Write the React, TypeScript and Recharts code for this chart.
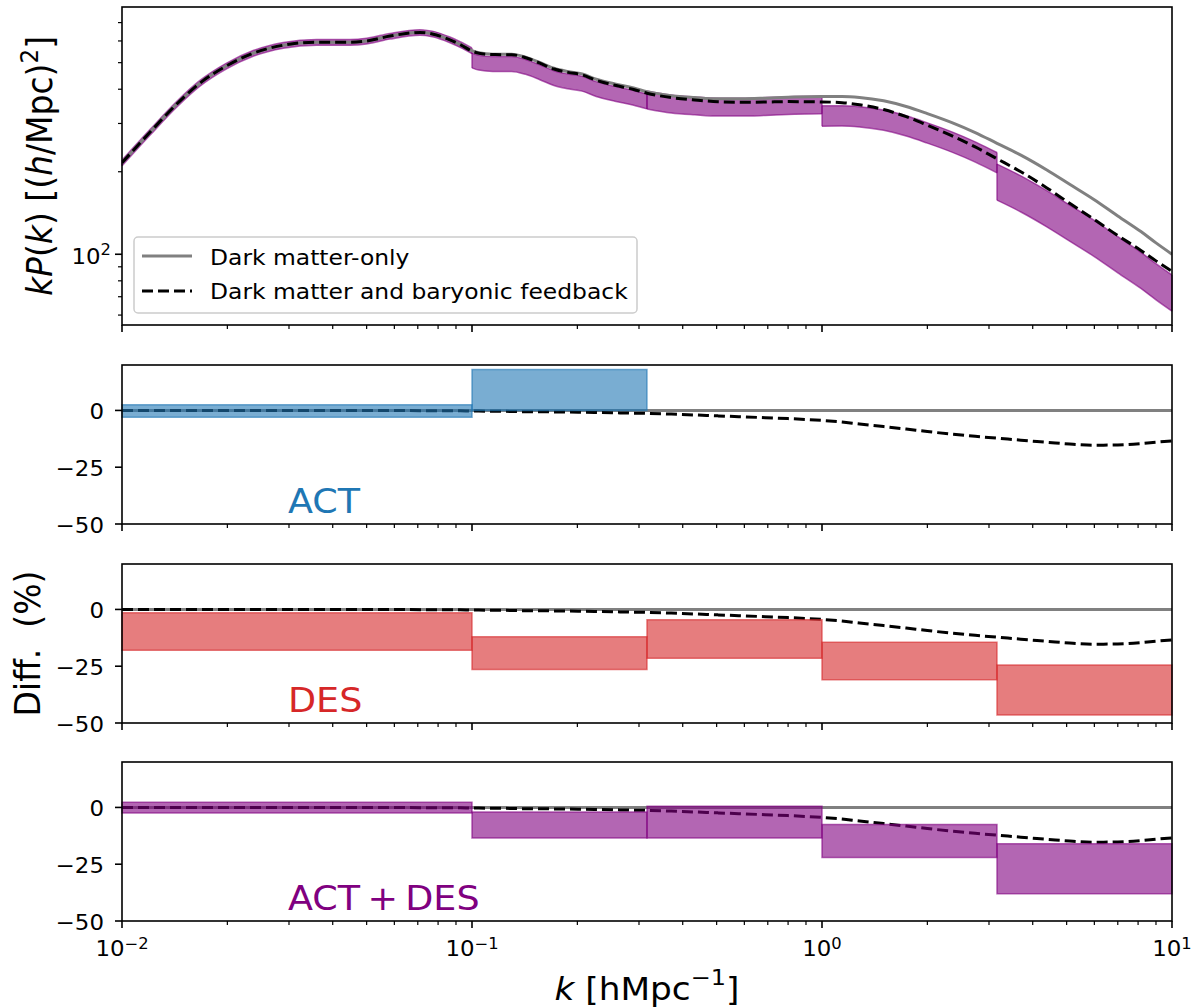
import React from "react";
import {
  Area,
  ComposedChart,
  Line,
  ReferenceArea,
  ReferenceLine,
  XAxis,
  YAxis,
} from "recharts";

const FONT = "DejaVu Sans";
const SX = 1.09; // the picture is slightly wider than tall

// wavenumbers the curves were read at (h/Mpc)
const kValues = [
  0.01, 0.012, 0.0143, 0.0167, 0.0199, 0.0237, 0.0289, 0.036, 0.0448, 0.05, 0.0583, 0.071,
  0.077, 0.0865, 0.0925, 0.1, 0.1045, 0.1147, 0.1297, 0.1423, 0.1562, 0.1714, 0.188, 0.2064,
  0.2264, 0.256, 0.2897, 0.3162, 0.371, 0.433, 0.505, 0.59, 0.688, 0.8, 1, 1.14, 1.28, 1.5,
  1.74, 2.0, 2.37, 2.74, 3.162, 3.7, 4.39, 5.1, 5.98, 7.0, 8.15, 9.0, 10,
];

// kP(k), dark matter only
const dmoPower = [
  215.6, 278, 352, 421, 487, 541, 579, 594, 594, 600, 625, 645, 637, 606, 583, 553, 543, 537,
  537, 524, 501, 477, 464, 455, 435, 418, 404, 392, 379, 373, 369, 369, 371, 374, 376, 376.5,
  373.5, 363, 346, 326, 301, 278, 254, 230, 203, 180, 158.5, 138, 121, 110, 100,
];

// kP(k), dark matter + baryonic feedback
const feedbackPower = [
  215.6, 278, 352, 421, 487, 541, 579, 594, 594, 600, 625, 644.4, 636.4, 605.4, 582.4, 551.3,
  541.4, 535.1, 534.6, 521.1, 498, 473.9, 460.8, 451.4, 431.1, 413.6, 399.2, 386.9, 372.9,
  365.5, 360.1, 358.7, 359.1, 360.5, 359.5, 357.3, 351.1, 337.2, 317.6, 295.7, 269.4, 246.3,
  223.0, 199.9, 174.6, 153.4, 134.2, 117.0, 103.3, 94.6, 86.6,
];

// feedback vs dark matter only, %
const feedbackDiff = [
  0, 0, 0, 0, 0, 0, 0, 0, 0, 0, 0, -0.1, -0.1, -0.1, -0.1, -0.3, -0.3, -0.35, -0.45, -0.55,
  -0.6, -0.65, -0.7, -0.8, -0.9, -1.05, -1.2, -1.3, -1.6, -2, -2.4, -2.8, -3.2, -3.6, -4.4,
  -5.1, -6.0, -7.1, -8.2, -9.3, -10.5, -11.4, -12.2, -13.1, -14.0, -14.8, -15.3, -15.2, -14.6,
  -14.0, -13.4,
];

// k bins and the constraints in each (%)
const binEdges = [0.01, 0.1, 0.3162, 1, 3.162, 10];
const actLow = [-3, 0];
const actHigh = [2.5, 18];
const desLow = [-18, -26.5, -21.5, -31, -46.5];
const desHigh = [-1.5, -12, -4.5, -14.5, -24.5];
const combLow = [-2.5, -13.5, -13.5, -22, -38];
const combHigh = [2.3, -2, 0.5, -7.5, -16];

const xTicks = [
  0.01, 0.02, 0.03, 0.04, 0.05, 0.06, 0.07, 0.08, 0.09, 0.1, 0.2, 0.3, 0.4, 0.5, 0.6, 0.7, 0.8,
  0.9, 1, 2, 3, 4, 5, 6, 7, 8, 9, 10,
];
const xMajor = [0.01, 0.1, 1, 10];
const xMajorExp = ["\u22122", "\u22121", "0", "1"];
const topTicks = [60, 70, 80, 90, 100, 200, 300, 400, 500, 600, 700];
const diffTicks = [-50, -25, 0];

const rows = kValues.map((k, i) => {
  const row: Record<string, any> = {
    k,
    dmo: dmoPower[i],
    fb: feedbackPower[i],
    diff: feedbackDiff[i],
  };
  combLow.forEach((lo, b) => {
    const inside = k >= binEdges[b] * 0.9999 && k <= binEdges[b + 1] * 1.0001;
    row[`band${b}`] = inside
      ? [dmoPower[i] * (1 + lo / 100), dmoPower[i] * (1 + combHigh[b] / 100)]
      : null;
  });
  return row;
});

// vertical sides of the top-panel bands
const bandSides = combLow.flatMap((lo, b) =>
  [binEdges[b], binEdges[b + 1]].map((x) => {
    const p = dmoPower[kValues.indexOf(x)];
    return { x, y1: p * (1 + lo / 100), y2: p * (1 + combHigh[b] / 100) };
  })
);

const PLOT_L = 122;
const PLOT_R = 1172;
const W = 1196;
const TOP = { top: 7, bottom: 325 };
const DIFFS = [
  { top: 365, bottom: 524 },
  { top: 564, bottom: 723 },
  { top: 762, bottom: 921 },
];
const X_AXIS_H = 1;

const stretch = (x: number, y: number, rot = false) =>
  `translate(${x},${y}) scale(${SX},1)${rot ? " rotate(-90)" : ""}`;

const XTick = ({ x, y, payload, showLabel }: any) => {
  const v = payload.value;
  const idx = xMajor.findIndex((m) => Math.abs(m - v) < 1e-9);
  const major = idx >= 0;
  return (
    <g>
      <line x1={x} x2={x} y1={y} y2={y + (major ? 7 : 4)} stroke="#000" strokeWidth={major ? 1.6 : 1.2} />
      {showLabel && major && (
        <text
          transform={stretch(x, y + 34.5)}
          textAnchor="middle"
          fontFamily={FONT}
          fontSize={21}
          fill="#000"
        >
          10
          <tspan dy={-7} fontSize={15}>
            {xMajorExp[idx]}
          </tspan>
        </text>
      )}
    </g>
  );
};

const TopYTick = ({ x, y, payload }: any) => {
  const major = payload.value === 100;
  return (
    <g>
      <line x1={x} x2={x - (major ? 7 : 4)} y1={y} y2={y} stroke="#000" strokeWidth={major ? 1.6 : 1.2} />
      {major && (
        <text transform={stretch(x - 11, y + 9.3)} textAnchor="end" fontFamily={FONT} fontSize={21} fill="#000">
          10
          <tspan dy={-9} fontSize={15}>
            2
          </tspan>
        </text>
      )}
    </g>
  );
};

const DiffYTick = ({ x, y, payload }: any) => (
  <g>
    <line x1={x} x2={x - 7} y1={y} y2={y} stroke="#000" strokeWidth={1.6} />
    <text transform={stretch(x - 18, y + 9)} textAnchor="end" fontFamily={FONT} fontSize={21} fill="#000">
      {payload.value < 0 ? `\u2212${Math.abs(payload.value)}` : payload.value}
    </text>
  </g>
);

const xAxisProps = {
  dataKey: "k",
  type: "number" as const,
  scale: "log" as const,
  domain: [0.01, 10],
  allowDataOverflow: true,
  ticks: xTicks,
  interval: 0 as const,
  tickLine: false,
  axisLine: false,
  tickSize: 0,
  tickMargin: 0,
  height: X_AXIS_H,
};

const TopPanel = () => {
  const h = 340;
  return (
    <div style={{ position: "absolute", left: 0, top: 0 }}>
      <ComposedChart
        width={W}
        height={h}
        data={rows}
        margin={{ top: TOP.top, right: W - PLOT_R, bottom: h - TOP.bottom - X_AXIS_H, left: 0 }}
      >
        <XAxis {...xAxisProps} tick={(p: any) => <XTick {...p} showLabel={false} />} />
        <YAxis
          type="number"
          scale="log"
          domain={[55.2, 798]}
          allowDataOverflow
          ticks={topTicks}
          interval={0}
          width={PLOT_L}
          tickLine={false}
          axisLine={false}
          tickSize={0}
          tickMargin={0}
          tick={(p: any) => <TopYTick {...p} />}
        />
        {combLow.map((_, b) => (
          <Area
            key={b}
            dataKey={`band${b}`}
            type="monotone"
            fill="#800080"
            fillOpacity={0.6}
            stroke="#800080"
            strokeOpacity={0.6}
            strokeWidth={1.5}
            dot={false}
            activeDot={false}
            isAnimationActive={false}
          />
        ))}
        {bandSides.map((s, i) => (
          <ReferenceLine
            key={`side${i}`}
            segment={[
              { x: s.x, y: s.y1 },
              { x: s.x, y: s.y2 },
            ]}
            stroke="#800080"
            strokeOpacity={0.6}
            strokeWidth={1.5}
            ifOverflow="visible"
          />
        ))}
        <Line
          dataKey="dmo"
          type="monotone"
          stroke="#808080"
          strokeWidth={3}
          dot={false}
          activeDot={false}
          isAnimationActive={false}
        />
        <Line
          dataKey="fb"
          type="monotone"
          stroke="#000"
          strokeWidth={3}
          strokeDasharray="11 5"
          dot={false}
          activeDot={false}
          isAnimationActive={false}
        />
      </ComposedChart>
    </div>
  );
};

const DiffPanel = ({ panel, low, high, color, showLabels }: any) => {
  const divTop = panel.top - 10;
  const h = showLabels ? 1007 - divTop : panel.bottom - divTop + 16;
  return (
    <div style={{ position: "absolute", left: 0, top: divTop }}>
      <ComposedChart
        width={W}
        height={h}
        data={rows}
        margin={{ top: 10, right: W - PLOT_R, bottom: h - (panel.bottom - divTop) - X_AXIS_H, left: 0 }}
      >
        <XAxis {...xAxisProps} tick={(p: any) => <XTick {...p} showLabel={showLabels} />} />
        <YAxis
          type="number"
          domain={[-50, 20]}
          allowDataOverflow
          ticks={diffTicks}
          interval={0}
          width={PLOT_L}
          tickLine={false}
          axisLine={false}
          tickSize={0}
          tickMargin={0}
          tick={(p: any) => <DiffYTick {...p} />}
        />
        <ReferenceLine y={0} stroke="#808080" strokeWidth={3} />
        <Line
          dataKey="diff"
          type="monotone"
          stroke="#000"
          strokeWidth={3}
          strokeDasharray="11 5"
          dot={false}
          activeDot={false}
          isAnimationActive={false}
        />
        {low.map((lo: number, i: number) => (
          <ReferenceArea
            key={i}
            x1={binEdges[i]}
            x2={binEdges[i + 1]}
            y1={lo}
            y2={high[i]}
            fill={color}
            fillOpacity={0.6}
            stroke={color}
            strokeOpacity={0.6}
            strokeWidth={1.5}
            ifOverflow="visible"
            zIndex={600}
          />
        ))}
      </ComposedChart>
    </div>
  );
};

const Overlay = () => (
  <svg
    width={W}
    height={1007}
    style={{ position: "absolute", left: 0, top: 0, pointerEvents: "none" }}
    fontFamily={FONT}
  >
    {[TOP, ...DIFFS].map((p, i) => (
      <rect
        key={i}
        x={PLOT_L}
        y={p.top}
        width={PLOT_R - PLOT_L}
        height={p.bottom - p.top}
        fill="none"
        stroke="#000"
        strokeWidth={1.6}
      />
    ))}

    {/* legend */}
    <rect x={134} y={237} width={503} height={76} rx={4} fill="#fff" fillOpacity={0.8} stroke="#cccccc" strokeWidth={1.5} />
    <line x1={142} x2={192} y1={256} y2={256} stroke="#808080" strokeWidth={3} />
    <line x1={142} x2={192} y1={291} y2={291} stroke="#000" strokeWidth={3} strokeDasharray="11 5" />
    <text transform={stretch(210, 265)} fontSize={21.5} fill="#000">
      Dark matter-only
    </text>
    <text transform={stretch(210, 299)} fontSize={21.5} fill="#000">
      Dark matter and baryonic feedback
    </text>

    {/* axis titles */}
    <text transform={stretch(52, 166, true)} textAnchor="middle" fontSize={33} fill="#000">
      <tspan fontStyle="italic">kP</tspan>(<tspan fontStyle="italic">k</tspan>) [(<tspan fontStyle="italic">h</tspan>/Mpc)
      <tspan dy={-13} fontSize={23}>
        2
      </tspan>
      <tspan dy={13}>]</tspan>
    </text>
    <text transform={stretch(40, 643.5, true)} textAnchor="middle" fontSize={33} fill="#000">
      {"Diff.\u00a0\u00a0(%)"}
    </text>
    <text transform={stretch(647, 1000)} textAnchor="middle" fontSize={31.5} fill="#000">
      <tspan fontStyle="italic">k</tspan> [hMpc
      <tspan dy={-15} fontSize={22}>
        {"\u22121"}
      </tspan>
      <tspan dy={15}>]</tspan>
    </text>

    {/* survey labels */}
    <text transform={stretch(288, DIFFS[0].bottom - 11.5)} fontSize={33.5} fill="#1f77b4">
      ACT
    </text>
    <text transform={stretch(288, DIFFS[1].bottom - 11.5)} fontSize={33.5} fill="#d62728">
      DES
    </text>
    <text transform={stretch(288, DIFFS[2].bottom - 11.5)} fontSize={33.5} fill="#800080">
      {"ACT\u2009+\u2009DES"}
    </text>
  </svg>
);

const App = () => (
  <div style={{ position: "absolute", left: 0, top: 0, width: W, height: 1007, background: "#fff" }}>
    <TopPanel />
    <DiffPanel panel={DIFFS[0]} low={actLow} high={actHigh} color="#1f77b4" showLabels={false} />
    <DiffPanel panel={DIFFS[1]} low={desLow} high={desHigh} color="#d62728" showLabels={false} />
    <DiffPanel panel={DIFFS[2]} low={combLow} high={combHigh} color="#800080" showLabels />
    <Overlay />
  </div>
);

export default App;
